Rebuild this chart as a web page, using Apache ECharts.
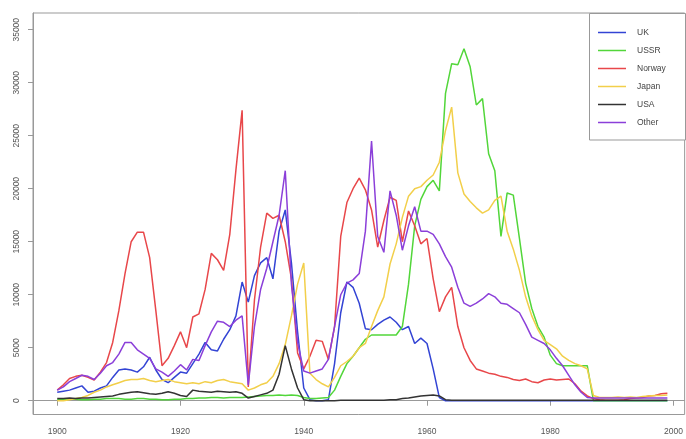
<!DOCTYPE html>
<html><head><meta charset="utf-8">
<script src="https://cdn.jsdelivr.net/npm/echarts@6/dist/echarts.min.js"></script>
<style>html,body{margin:0;padding:0;background:#fff}#c{width:686px;height:439px}</style>
</head><body><div id="c"></div>
<script>
const firstYear = 1900;
const lastYear = 1999;
const seriesNames = ['UK', 'USSR', 'Norway', 'Japan', 'USA', 'Other'];
const xTicks = [1900, 1920, 1940, 1960, 1980, 2000];
const yTicks = [0, 5000, 10000, 15000, 20000, 25000, 30000, 35000];

const uk = [
  800, 900, 1000, 1200, 1400, 800, 900, 1200, 1400, 2200,
  2900, 3000, 2900, 2700, 3200, 4100, 2900, 2000, 1700, 2200,
  2700, 2600, 3500, 4400, 5500, 4800, 4700, 5800, 6700, 8000,
  11200, 9300, 11800, 13000, 13500, 11500, 16000, 18000, 13000, 6500,
  1200, 100, 0, 0, 100, 3500, 8300, 11200, 10700, 9200,
  6800, 6700, 7200, 7600, 7900, 7400, 6700, 7000, 5400, 5900,
  5400, 3000, 300, 0, 0, 0, 0, 0, 0, 0,
  0, 0, 0, 0, 0, 0, 0, 0, 0, 0,
  0, 0, 0, 0, 0, 0, 0, 0, 0, 0,
  0, 0, 0, 0, 0, 0, 0, 0, 0, 0
];
const ussr = [
  100, 100, 150, 150, 100, 100, 150, 150, 200, 200,
  200, 150, 150, 200, 200, 150, 150, 100, 100, 150,
  150, 200, 200, 250, 250, 300, 300, 250, 300, 300,
  300, 350, 400, 450, 500, 500, 550, 500, 550, 500,
  300, 200, 200, 250, 300, 1000, 2300, 3500, 4200, 5000,
  5800, 6200, 6200, 6200, 6200, 6200, 7000, 11000, 16500, 19000,
  20200, 20800, 19800, 29000, 31800, 31700, 33200, 31500, 27900, 28500,
  23300, 21700, 15500, 19600, 19400, 15300, 11100, 8700, 7000, 6000,
  4300, 3500, 3300, 3300, 3300, 3300, 3300, 0, 0, 0,
  0, 0, 0, 0, 0, 0, 0, 0, 0, 0
];
const norway = [
  1000, 1500, 2100, 2300, 2400, 2200, 1950, 2700, 3600, 5500,
  8500, 12000, 15000, 15900, 15900, 13500, 8500, 3300, 4000, 5200,
  6500, 5000, 7900, 8200, 10500, 13900, 13300, 12300, 15700, 21800,
  27400, 1300, 9500, 14500, 17700, 17200, 17500, 15000, 11500, 4500,
  3000, 4200, 5700, 5600, 3900, 7000, 15500, 18700, 20000, 21000,
  19900, 18000, 14500, 17000, 19200, 18900, 15000, 17900, 16500, 14800,
  15300, 11500, 8400, 9800, 10700, 7000, 5000, 3800, 3000, 2800,
  2600, 2500, 2300, 2200, 2000, 1900, 2050, 1800, 1700, 1950,
  2050, 1950, 2000, 2050, 1600, 900, 450, 200, 100, 50,
  50, 50, 100, 200, 250, 300, 450, 500, 650, 700
];
const japan = [
  0, 0, 100, 200, 300, 500, 800, 1000, 1300, 1500,
  1700, 1900, 2000, 2000, 2100, 1900, 1800, 1900, 2000, 1800,
  1700, 1600, 1700, 1600, 1800, 1700, 1900, 2000, 1800, 1700,
  1600, 1000, 1200, 1500, 1700, 2300, 3500, 5300, 8000, 11000,
  13000, 2600, 2000, 1600, 1300, 2200, 3300, 3700, 4200, 5000,
  5400, 7000, 8500, 9800, 12900, 14800, 17300, 19300, 20000, 20200,
  20800, 21300, 22500, 25500, 27700, 21500, 19500, 18800, 18200, 17700,
  18000, 18900, 19300, 16000, 14300, 12300, 9800, 8000, 6700, 5700,
  5300, 4900, 4200, 3800, 3500, 3300, 3000, 500, 300, 300,
  300, 350, 300, 350, 300, 400, 450, 500, 500, 550
];
const usa = [
  200, 200, 250, 200, 250, 250, 300, 350, 400, 450,
  600, 700, 800, 850, 750, 650, 600, 700, 850, 700,
  500, 400, 1000, 900, 850, 800, 900, 850, 800, 850,
  700, 250, 400, 550, 700, 1000, 2500, 5200, 3000, 1200,
  100, 0, 0, 0, 0, 0, 50, 50, 50, 50,
  50, 50, 50, 50, 100, 100, 200, 250, 350, 450,
  500, 550, 450, 100, 50, 50, 50, 50, 50, 50,
  50, 50, 50, 50, 50, 50, 50, 50, 50, 50,
  50, 50, 50, 50, 50, 50, 50, 50, 50, 50,
  50, 50, 50, 50, 50, 50, 50, 50, 50, 50
];
const other = [
  1000, 1300, 1800, 2100, 2400, 2300, 2000, 2600, 3300, 3600,
  4400, 5500, 5500, 4800, 4400, 4000, 3000, 2700, 2300, 2800,
  3400, 2900, 3900, 3800, 5200, 6500, 7500, 7400, 7000, 7600,
  8000, 1500, 7000, 10500, 12500, 15000, 17500, 21700, 11000, 5500,
  2800, 2600, 2800, 3000, 3900, 7000, 10000, 11100, 11400, 12000,
  16000, 24500, 15500, 14000, 19800, 17500, 14200, 16500, 18300, 16000,
  16000, 15700, 14800, 13600, 12600, 10700, 9200, 8900, 9200, 9600,
  10100, 9800, 9200, 9100, 8700, 8300, 7200, 6000, 5700, 5400,
  4800, 4000, 3300, 2400, 1500, 800, 300, 250, 250, 250,
  250, 250, 250, 250, 250, 250, 250, 250, 250, 250
];

const seriesValues = [uk, ussr, norway, japan, usa, other];
const colors = ['#3344d4', '#52d63a', '#e8474a', '#f2cf4a', '#333333', '#8b3fd9'];

const years = [];
for (let y = firstYear; y <= lastYear; y++) years.push(y);

const axisColor = '#999999';
const font = 'Liberation Sans, Arial, sans-serif';
const plain = v => String(v);

const chart = echarts.init(document.getElementById('c'), null, {renderer: 'canvas'});
chart.setOption({
  animation: false,
  backgroundColor: '#ffffff',
  color: colors,
  grid: {left: 33, top: 13, right: 0, bottom: 24.5, show: true, borderColor: axisColor, borderWidth: 1, containLabel: false},
  xAxis: {
    type: 'value', min: 1896.07, max: 2001.8,
    splitLine: {show: false},
    axisLine: {show: true, lineStyle: {color: axisColor}},
    axisTick: {show: true, length: 5, lineStyle: {color: axisColor}, customValues: xTicks},
    axisLabel: {customValues: xTicks, formatter: plain, margin: 13, fontSize: 8.5, color: '#555', fontFamily: font}
  },
  yAxis: {
    type: 'value', min: -1300, max: 36580,
    splitLine: {show: false},
    axisLine: {show: true, lineStyle: {color: axisColor}},
    axisTick: {show: true, length: 5, lineStyle: {color: axisColor}, customValues: yTicks},
    axisLabel: {customValues: yTicks, formatter: plain, rotate: 90, margin: 12, fontSize: 8.5, color: '#555', fontFamily: font}
  },
  legend: {
    data: seriesNames, orient: 'vertical', left: 598, top: 27, padding: 0,
    icon: 'rect', itemWidth: 28, itemHeight: 1.5, itemGap: 7,
    textStyle: {fontSize: 8.5, lineHeight: 11, color: '#444', fontFamily: font, padding: [0, 0, 0, 6]}
  },
  graphic: [{
    type: 'rect', z: 0, silent: true,
    shape: {x: 589.5, y: 13.5, width: 96, height: 126.5},
    style: {fill: '#ffffff', stroke: axisColor, lineWidth: 1}
  }],
  series: seriesNames.map((name, k) => ({
    name: name, type: 'line', symbol: 'none', z: 2 + k,
    lineStyle: {width: 1.5, color: colors[k]},
    itemStyle: {color: colors[k]},
    data: years.map((y, i) => [y, seriesValues[k][i]])
  }))
});
</script>
</body></html>
